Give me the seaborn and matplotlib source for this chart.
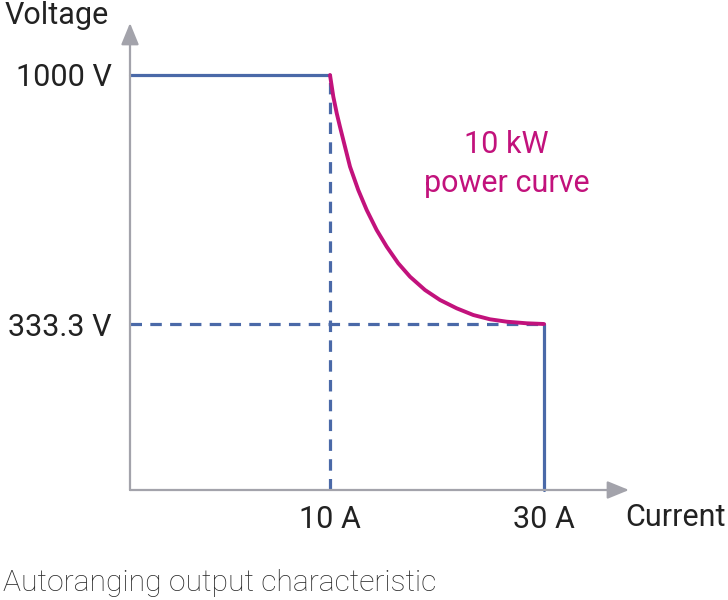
import numpy as np
import matplotlib
matplotlib.use("Agg")
import matplotlib.pyplot as plt
import seaborn as sns

# ---- data ----
i_max = 10.0        # A, current at the 1000 V corner
v_max = 1000.0      # V
i_lim = 30.0        # A, current limit
v_min = 333.3       # V
# 10 kW power curve
curve_i = [10.0, 10.31, 10.63, 10.93, 11.40, 11.87, 12.64, 13.43, 14.36, 15.30,
           16.38, 17.48, 18.88, 20.28, 21.84, 23.39, 24.95, 26.51, 28.38, 30.0]
curve_v = [1000.0, 941.9, 897.4, 861.6, 808.0, 754.5, 692.1, 638.5, 585.0, 540.3,
           495.8, 459.9, 424.3, 397.6, 375.3, 357.4, 345.9, 339.5, 335.2, 333.3]
x_ticks = [10, 30]
x_labels = ["10 A", "30 A"]
y_ticks = [333.3, 1000]
y_labels = ["333.3 V", "1000 V"]

BLUE = "#4a69a8"
MAGENTA = "#c2127c"
GREY = "#a3a3ab"
TXT = "#222222"
FS = 22

sns.set_theme(style="white")
plt.rcParams["font.family"] = ["Roboto", "DejaVu Sans"]

# schematic (non-linear) axes, same as the drawing
xa = [-10, 0, 10, 30, 40]
xp = [-200, 0, 200, 414, 521]
ya = [-200, 0, 333.3, 1000, 1200]
yp = [-83, 0, 166, 415, 490]
xscale = (lambda v: np.interp(v, xa, xp), lambda v: np.interp(v, xp, xa))
yscale = (lambda v: np.interp(v, ya, yp), lambda v: np.interp(v, yp, ya))

W, H = 728, 600
fig = plt.figure(figsize=(W / 100, H / 100), dpi=100)
ox, oy = 130, 490
ax = fig.add_axes([ox / W, (H - oy) / H, 499 / W, 467 / H])
ax.set_xscale("function", functions=xscale)
ax.set_yscale("function", functions=yscale)
ax.set_xlim(0, np.interp(499, xp, xa))
ax.set_ylim(0, np.interp(467, yp, ya))
for s in ax.spines.values():
    s.set_visible(False)

# axes arrows
arrow = dict(arrowstyle="-|>,head_length=1.1,head_width=0.45",
             color=GREY, lw=1.6, shrinkA=0, shrinkB=0)
ax.annotate("", xy=(1, 0), xytext=(0, 0), xycoords="axes fraction", arrowprops=arrow)
ax.annotate("", xy=(0, 1), xytext=(0, 0), xycoords="axes fraction", arrowprops=arrow)

lw = 2.3
dash = (0, (3.6, 2.6))
ax.plot([0, i_max], [v_max, v_max], color=BLUE, lw=lw, clip_on=False)
ax.plot([i_max, i_max], [0, v_max], color=BLUE, lw=lw, ls=dash, clip_on=False)
ax.plot([0, i_lim], [v_min, v_min], color=BLUE, lw=lw, ls=dash, clip_on=False)
ax.plot([i_lim, i_lim], [0, v_min], color=BLUE, lw=lw, clip_on=False)
sns.lineplot(x=curve_i, y=curve_v, sort=False, color=MAGENTA, lw=2.8, ax=ax)

ax.text(26.5, 762, "10 kW\npower curve", color=MAGENTA, fontsize=FS,
        ha="center", va="center", linespacing=1.45)

ax.set_xticks(x_ticks)
ax.set_xticklabels(x_labels)
ax.set_yticks(y_ticks)
ax.set_yticklabels(y_labels)
ax.tick_params(axis="both", length=0, labelsize=FS, labelcolor=TXT)
ax.tick_params(axis="x", pad=10.5)
ax.tick_params(axis="y", pad=13)
ax.minorticks_off()
ax.grid(False)

fig.text(5 / W, 1 - 15 / H, "Voltage", fontsize=FS, color=TXT, ha="left", va="center")
fig.text(625 / W, 1 - 517 / H, "Current", fontsize=FS, color=TXT, ha="left", va="center")
fig.text(3 / W, 1 - 583 / H, "Autoranging output characteristic", fontsize=21.7,
         color="#2a2a2a", ha="left", va="center", fontweight="light")

fig.savefig("out.png", dpi=100)
